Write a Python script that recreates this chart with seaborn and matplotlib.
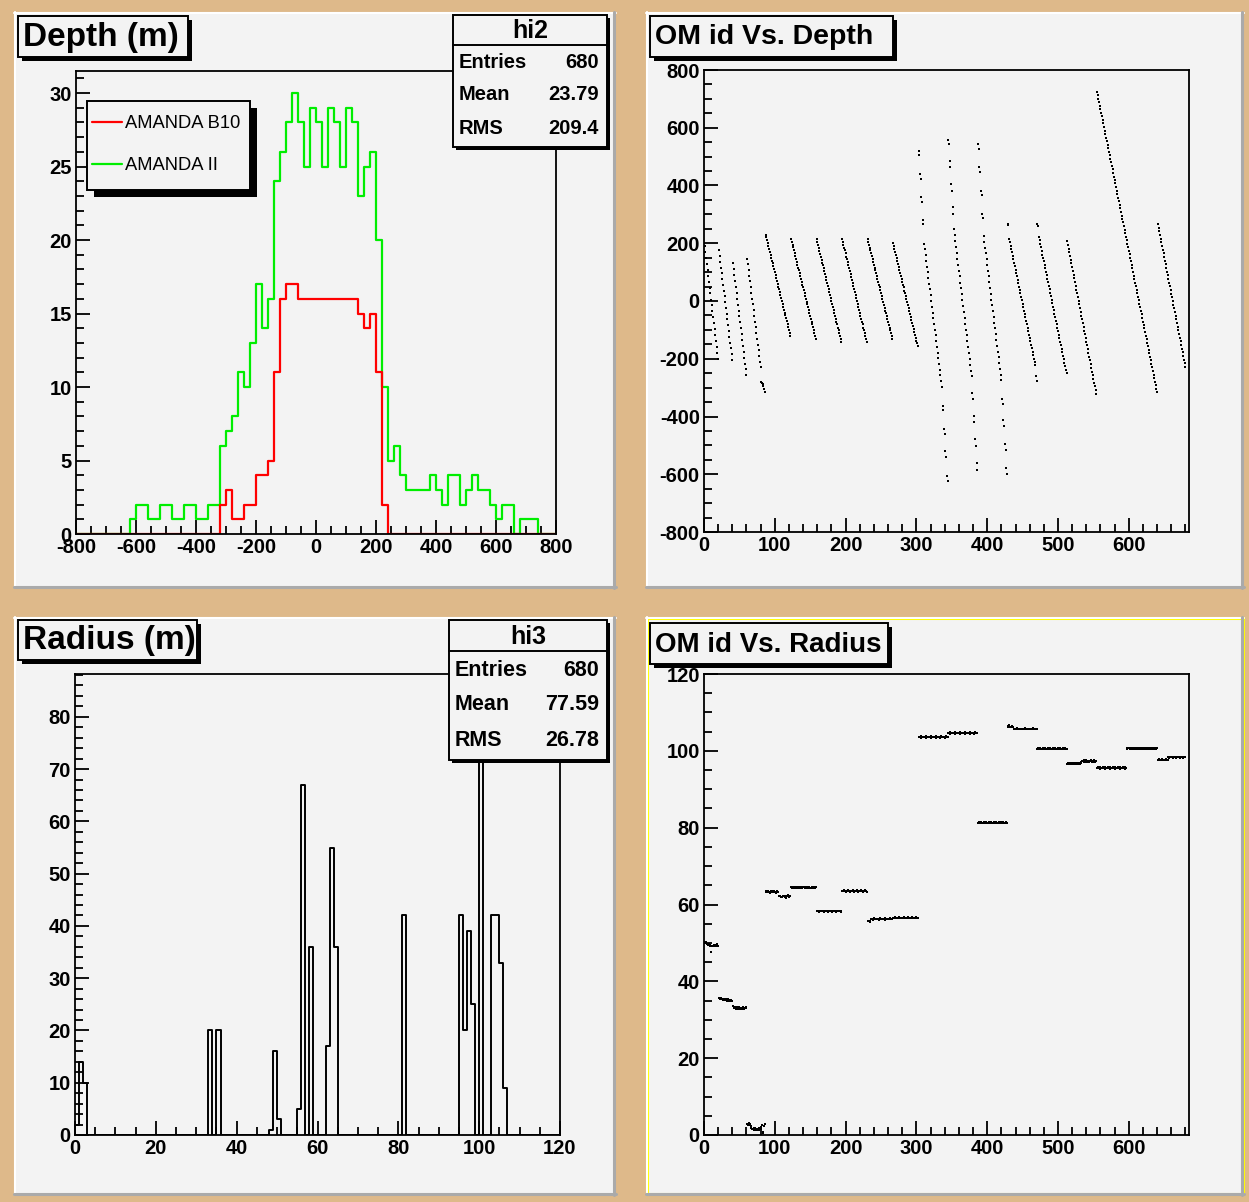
import numpy as np
import pandas as pd
import matplotlib
matplotlib.use("Agg")
import matplotlib.pyplot as plt
from matplotlib.patches import Rectangle
from matplotlib.ticker import MultipleLocator
import seaborn as sns

# ---------------- data ----------------
# Depth histograms, 20 m bins, counts from first non-empty bin
depth_bin = 20
b10_first = -320
b10_counts = [2, 3, 1, 1, 2, 2, 4, 4, 5, 11, 16, 17, 17, 16, 16, 16, 16, 16, 16, 16,
              16, 16, 16, 15, 14, 15, 11, 2]
aii_first = -620
aii_counts = [1, 2, 2, 1, 1, 2, 2, 1, 1, 2, 2, 1, 1, 2, 2,
              6, 7, 8, 11, 10, 13, 17, 14, 16, 24, 26, 28, 30, 28, 25, 29,
              28, 25, 29, 28, 25, 29, 28, 23, 25, 26, 20, 10, 5, 6, 4, 3, 3, 3, 3,
              4, 3, 2, 4, 4, 2, 3, 4, 3, 3, 2, 1, 2, 2, 0, 1, 1, 1]

# Radius histogram, 1 m bins: bin left edge -> count
radius_bins = [0, 1, 2, 33, 35, 48, 49, 50, 55, 56, 58, 62, 63, 64, 81,
               95, 96, 97, 98, 100, 103, 104, 105, 106]
radius_counts = [2, 14, 10, 20, 20, 1, 16, 3, 5, 67, 36, 17, 55, 36, 42,
                 42, 20, 39, 25, 84, 42, 42, 33, 9]

# OM positions per string: first OM id, depths (m), radius (m)
string_first_id = [1, 21, 41, 61, 87, 123, 159, 195, 231, 267, 303, 345, 387,
                   429, 471, 513, 555, 597, 641]

depth_s01 = [190, 170, 149, 128, 108, 87, 67, 46, 26, 5, -15, -36, -56, -77, -97, -118, -138, -159, -179, -200]
depth_s02 = [176, 156, 136, 116, 96, 76, 56, 36, 16, -4, -24, -44, -64, -84, -104, -124, -144, -164, -184, -205]
depth_s03 = [130, 110, 89, 69, 48, 28, 8, -13, -33, -53, -74, -94, -115, -135, -155, -176, -196, -217, -237, -258]
depth_s04 = [147, 127, 107, 88, 68, 48, 28, 8, -12, -32, -51, -71, -91, -111, -131, -151, -170, -190, -210, -230,
             -280, -284, -288, -295, -305, -315]
depth_s05 = [230, 220, 210, 200, 190, 180, 170, 160, 150, 140, 130, 120, 110, 100, 90, 80, 70, 60,
             50, 40, 30, 20, 10, 0, -10, -20, -30, -40, -50, -60, -70, -80, -90, -100, -110, -120]
depth_s06 = [215, 205, 195, 186, 176, 166, 156, 146, 136, 126, 116, 107, 97, 87, 77, 67, 57, 47,
             37, 28, 18, 8, -2, -12, -22, -32, -42, -51, -61, -71, -81, -91, -101, -111, -120, -130]
depth_s07 = [215, 205, 195, 184, 174, 164, 154, 143, 133, 123, 113, 103, 92, 82, 72, 62, 51, 41,
             31, 21, 11, 0, -10, -20, -30, -41, -51, -61, -71, -81, -92, -102, -112, -122, -132, -142]
depth_s08 = [216, 206, 195, 185, 175, 165, 154, 144, 134, 124, 113, 103, 93, 83, 72, 62, 52, 42,
             31, 21, 11, 1, -10, -20, -30, -40, -51, -61, -71, -81, -92, -102, -112, -122, -133, -143]
depth_s09 = [214, 204, 195, 185, 175, 165, 155, 145, 135, 126, 116, 106, 96, 86, 76, 66, 56, 47,
             37, 27, 17, 7, -3, -13, -23, -33, -42, -52, -62, -72, -82, -92, -102, -111, -121, -131]
depth_s10 = [200, 190, 180, 169, 159, 149, 139, 128, 118, 108, 98, 88, 77, 67, 57, 47, 36, 26,
             16, 6, -4, -15, -25, -35, -45, -55, -66, -76, -86, -96, -107, -117, -127, -137, -147, -157]
depth_s11 = [520, 505, 441, 424, 361, 343, 280, 265,
             199, 179, 159, 139, 119, 100, 80, 60, 40, 20, 0, -20, -40, -60, -79, -99, -119, -139,
             -159, -179, -199, -218, -238, -258, -278, -298,
             -365, -379, -445, -460, -518, -541, -605, -622]
depth_s12 = [557, 542, 485, 463, 405, 382, 324, 301,
             248, 228, 207, 187, 166, 146, 126, 105, 85, 64, 44, 24, 3, -17, -38, -58, -78, -99,
             -119, -140, -160, -180, -201, -221, -241, -261,
             -318, -339, -397, -420, -478, -501, -562, -585]
depth_s13 = [543, 528, 463, 448, 382, 367, 301, 286,
             225, 205, 185, 165, 145, 125, 105, 85, 65, 45, 25, 5, -15, -35, -55, -75, -95, -115,
             -135, -155, -175, -195, -215, -235, -255, -275,
             -339, -355, -413, -434, -494, -515, -578, -599]
depth_s14 = [268, 262, 216, 204, 192, 180, 168, 157, 145, 133, 121, 109, 97, 85, 73, 62, 50, 38,
             26, 14, 2, -10, -22, -34, -45, -57, -69, -81, -93, -105, -117, -129, -140, -152,
             -164, -176, -188, -200, -212, -223, -261, -277]
depth_s15 = [266, 260, 222, 210, 198, 186, 174, 161, 149, 137, 125, 113, 101, 89, 77, 65, 53, 40,
             28, 16, 4, -8, -20, -32, -44, -56, -68, -81, -93, -105, -117, -129, -141, -153,
             -165, -177, -189, -202, -214, -226, -238, -250]
depth_s16 = [207, 194, 181, 168, 155, 142, 130, 117, 104, 91, 78, 65, 52, 39, 26, 13, 0, -12,
             -25, -38, -51, -64, -77, -90, -103, -116, -128, -141, -154, -167, -180, -193, -206,
             -219, -232, -245, -257, -270, -283, -296, -309, -321]
depth_s17 = [725, 713, 700, 688, 676, 664, 651, 639, 627, 615, 602, 590, 578, 566, 554, 541, 529,
             517, 505, 492, 480, 468, 456, 443, 431, 419, 407, 394, 382, 370, 358, 345, 333, 321,
             309, 296, 284, 272, 260, 247, 235, 223]
depth_s18 = [211, 199, 186, 174, 162, 150, 137, 125, 113, 101, 88, 76, 64, 52, 39, 27, 15, 3,
             -10, -22, -34, -46, -59, -71, -83, -95, -108, -120, -132, -144, -157, -169, -181,
             -193, -206, -218, -230, -242, -255, -267, -279, -291, -304, -316]
depth_s19 = [266, 253, 241, 228, 215, 203, 190, 177, 165, 152, 139, 127, 114, 101, 89, 76, 63, 51,
             38, 25, 13, 0, -13, -25, -38, -51, -63, -76, -89, -101, -114, -127, -139, -152,
             -165, -177, -190, -203, -215, -228]

radius_s01 = [50.3, 50.1, 50.2, 49.8, 49.6, 49.5, 49.7, 49.3, 49.4, 47.6, 49.2, 49.1, 49.3, 49.5,
              49.2, 49.1, 49.4, 49.3, 49.6, 49.2]
radius_s02 = [35.6, 35.5, 35.4, 35.6, 35.3, 35.4, 35.2, 35.5, 35.3, 35.2, 35.4, 35.1, 35.0, 35.3,
              34.9, 35.2, 35.0, 35.1, 34.9, 35.0]
radius_s03 = [33.5, 33.2, 33.0, 33.3, 32.9, 33.1, 33.4, 32.8, 33.0, 33.2, 32.9, 33.1, 33.0, 32.7,
              33.2, 33.0, 32.9, 33.1, 33.3, 33.0]
radius_s04 = [2.9, 2.7, 3.1, 2.6, 2.8, 2.4, 1.8, 1.6, 1.5, 1.7, 1.4, 1.9, 1.3, 1.6, 1.5, 1.2, 1.8,
              1.4, 1.7, 1.5, 2.2, 2.6, 0.8, 0.6, 2.3, 2.9]
radius_s05 = [63.4, 63.3, 63.5, 63.2, 63.4, 63.3, 63.1, 63.4, 63.3, 63.5, 63.2, 63.3, 63.4, 63.2,
              63.3, 63.1, 63.4, 63.2, 63.3,
              62.3, 62.1, 62.2, 62.0, 61.9, 62.2, 62.1, 62.3, 62.0, 62.1, 61.8, 62.2, 62.1, 62.4,
              62.0, 62.2, 62.1]
radius_s06 = [64.6, 64.4, 64.5, 64.3, 64.4, 64.6] * 6
radius_s07 = [58.4, 58.2, 58.3, 58.3, 58.1, 58.4] * 6
radius_s08 = [63.6, 63.4, 63.5, 63.7, 63.5, 63.3] * 6
radius_s09 = [55.7, 55.6, 55.8, 55.5, 55.7,
              56.2, 56.1, 56.3, 56.0, 56.4, 56.2, 56.1, 56.3, 56.2, 56.1, 56.3, 56.0, 56.4, 56.2,
              56.1, 56.3, 56.2, 56.1, 56.3, 56.0, 56.4, 56.2, 56.1, 56.3, 56.2, 56.3, 56.1, 56.4,
              56.2, 56.3, 56.2]
radius_s10 = [56.5, 56.6, 56.4, 56.7, 56.5, 56.6] * 6
radius_s11 = [103.5, 103.7, 103.6, 103.4, 103.8, 103.6, 103.5] * 6
radius_s12 = [104.6, 104.7, 104.5, 104.8, 104.6, 104.7, 104.6] * 6
radius_s13 = [81.3, 81.4, 81.2, 81.3, 81.5, 81.3, 81.2] * 6
radius_s14 = [106.4, 106.3, 106.6, 106.2, 106.3, 106.2, 106.4, 106.2, 106.3] + \
    [105.7, 105.8, 105.6, 105.7, 105.9, 105.7, 105.6, 105.8, 105.7, 105.6, 105.8] * 3
radius_s15 = [100.6, 100.7, 100.5, 100.6, 100.8, 100.6, 100.5] * 6
radius_s16 = [96.6, 96.8, 96.7, 96.5, 96.9, 96.7, 96.6, 96.8, 96.7, 96.9] * 2 + \
    [97.2, 97.4, 97.3, 97.6, 97.2, 97.1, 97.3, 97.5, 97.2, 97.3, 97.4] * 2
radius_s17 = [95.6, 95.5, 95.8, 95.6, 95.4, 95.7, 95.5] * 6
radius_s18 = [100.7, 100.6, 100.8, 100.7, 100.5, 100.7, 100.8, 100.6, 100.7, 100.6, 100.8] * 4
radius_s19 = [97.6, 97.8, 97.7, 97.5, 97.7] * 3 + [98.3, 98.2, 98.4, 98.3, 98.5] * 5

hi2_stats = [("Entries", "680"), ("Mean", "23.79"), ("RMS", "209.4")]
hi3_stats = [("Entries", "680"), ("Mean", "77.59"), ("RMS", "26.78")]

depth_strings = [depth_s01, depth_s02, depth_s03, depth_s04, depth_s05, depth_s06, depth_s07,
                 depth_s08, depth_s09, depth_s10, depth_s11, depth_s12, depth_s13, depth_s14,
                 depth_s15, depth_s16, depth_s17, depth_s18, depth_s19]
radius_strings = [radius_s01, radius_s02, radius_s03, radius_s04, radius_s05, radius_s06,
                  radius_s07, radius_s08, radius_s09, radius_s10, radius_s11, radius_s12,
                  radius_s13, radius_s14, radius_s15, radius_s16, radius_s17, radius_s18,
                  radius_s19]

rows = []
for first, dep, rad in zip(string_first_id, depth_strings, radius_strings):
    for k, (d, r) in enumerate(zip(dep, rad)):
        rows.append((first + k, d, r))
om = pd.DataFrame(rows, columns=["om", "depth", "radius"])

b10_df = pd.DataFrame({"x": [b10_first + depth_bin * (k + 0.5) for k in range(len(b10_counts))],
                       "w": b10_counts})
aii_df = pd.DataFrame({"x": [aii_first + depth_bin * (k + 0.5) for k in range(len(aii_counts))],
                       "w": aii_counts})
rad_df = pd.DataFrame({"x": [v + 0.5 for v in radius_bins], "w": radius_counts})

# ---------------- figure ----------------
W, H = 1249, 1202
TAN = "#DEB98A"
PAD = "#F3F3F3"

sns.set_style("ticks")
plt.rcParams["font.family"] = ["Liberation Sans", "DejaVu Sans"]
plt.rcParams["font.weight"] = "bold"
plt.rcParams["axes.unicode_minus"] = False
for key in ["text.color", "xtick.color", "ytick.color", "axes.labelcolor"]:
    plt.rcParams[key] = "black"

fig = plt.figure(figsize=(W / 100, H / 100), dpi=100, facecolor=TAN)


def rect(l, t, r, b):
    return [l / W, 1 - b / H, (r - l) / W, (b - t) / H]


bg = fig.add_axes([0, 0, 1, 1], zorder=0)
bg.set_xlim(0, W)
bg.set_ylim(H, 0)
bg.axis("off")

pads = [(14, 12, 616, 588), (646, 12, 1244, 588), (14, 617, 616, 1195), (646, 617, 1244, 1195)]
for (l, t, r, b) in pads:
    bg.add_patch(Rectangle((l, t), r - l, b - t, facecolor=PAD, edgecolor="none"))
    bg.plot([l, r], [t + 1, t + 1], color="white", lw=1.5)
    bg.plot([l + 1, l + 1], [t, b], color="white", lw=1.5)
    bg.plot([r - 1.5, r - 1.5], [t, b], color="#AAAAAA", lw=2.2)
    bg.plot([l, r], [b - 1.5, b - 1.5], color="#AAAAAA", lw=2.2)
l, t, r, b = pads[3]
bg.add_patch(Rectangle((l + 1, t + 1), r - l - 2, b - t - 2, facecolor="none",
                       edgecolor="#FFFF00", lw=2.2))


def style_axes(ax, xmaj, xmin, ymaj, ymin):
    ax.set_facecolor(PAD)
    for s in ax.spines.values():
        s.set_visible(True)
        s.set_linewidth(1.3)
        s.set_color("black")
    ax.xaxis.set_major_locator(MultipleLocator(xmaj))
    ax.xaxis.set_minor_locator(MultipleLocator(xmin))
    ax.yaxis.set_major_locator(MultipleLocator(ymaj))
    ax.yaxis.set_minor_locator(MultipleLocator(ymin))
    ax.tick_params(which="both", direction="in", top=False, right=False, width=1.3,
                   labelsize=14.5, pad=3, color="black", labelcolor="black")
    ax.tick_params(which="major", length=10)
    ax.tick_params(which="minor", length=5.5)
    for lab in ax.get_xticklabels() + ax.get_yticklabels():
        lab.set_fontweight("bold")
    ax.set_xlabel("")
    ax.set_ylabel("")


# Depth histogram
ax1 = fig.add_axes(rect(76, 71, 556, 534), zorder=2)
sns.histplot(data=aii_df, x="x", weights="w", binwidth=depth_bin, binrange=(-800, 800),
             element="step", fill=False, color="#00EE00", linewidth=1.6, ax=ax1)
sns.histplot(data=b10_df, x="x", weights="w", binwidth=depth_bin, binrange=(-800, 800),
             element="step", fill=False, color="#FF0000", linewidth=1.6, ax=ax1)
ax1.set_xlim(-800, 800)
ax1.set_ylim(0, 31.5)
style_axes(ax1, 200, 50, 5, 1)

# OM id vs depth
ax2 = fig.add_axes(rect(704, 70, 1189, 532), zorder=2)
sns.scatterplot(data=om, x="om", y="depth", marker="s", s=4, color="black",
                linewidth=0, legend=False, ax=ax2)
ax2.set_xlim(0, 685)
ax2.set_ylim(-800, 800)
style_axes(ax2, 100, 20, 200, 50)

# Radius histogram
ax3 = fig.add_axes(rect(75, 674, 560, 1135), zorder=2)
sns.histplot(data=rad_df, x="x", weights="w", binwidth=1, binrange=(0, 120),
             element="step", fill=False, color="black", linewidth=1.4, ax=ax3)
ax3.set_xlim(0, 120)
ax3.set_ylim(0, 88.2)
style_axes(ax3, 20, 5, 10, 2)

# OM id vs radius
ax4 = fig.add_axes(rect(704, 674, 1189, 1135), zorder=2)
sns.scatterplot(data=om, x="om", y="radius", marker="s", s=4, color="black",
                linewidth=0, legend=False, ax=ax4)
ax4.set_xlim(0, 685)
ax4.set_ylim(0, 120)
style_axes(ax4, 100, 20, 20, 5)

# ---------------- boxes on top ----------------
fg = fig.add_axes([0, 0, 1, 1], zorder=10)
fg.set_xlim(0, W)
fg.set_ylim(H, 0)
fg.axis("off")


def box(l, t, r, b, sh=4, lw=1.4):
    fg.add_patch(Rectangle((l + sh, t + sh), r - l, b - t, facecolor="black", edgecolor="none"))
    fg.add_patch(Rectangle((l, t), r - l, b - t, facecolor=PAD, edgecolor="black", lw=lw))


def title_box(l, t, r, b, text, size):
    box(l, t, r, b, sh=4)
    fg.text(l + 5, (t + b) / 2 + 1, text, fontsize=size, fontweight="bold",
            ha="left", va="center", color="black")


title_box(18, 16, 188, 57, "Depth (m)", 24)
title_box(650, 16, 893, 57, "OM id Vs. Depth", 20.5)
title_box(18, 620, 197, 660, "Radius (m)", 24)
title_box(650, 623, 888, 664, "OM id Vs. Radius", 20)


def stat_box(l, t, r, b, head_b, name, stats, ys, size, head_size):
    box(l, t, r, b, sh=3)
    fg.plot([l, r], [head_b, head_b], color="black", lw=1.4)
    fg.text((l + r) / 2, (t + head_b) / 2 + 1, name, fontsize=head_size, fontweight="bold",
            ha="center", va="center", color="black")
    for (lab, val), y in zip(stats, ys):
        fg.text(l + 6, y, lab, fontsize=size, fontweight="bold", ha="left", va="center",
                color="black")
        fg.text(r - 8, y, val, fontsize=size, fontweight="bold", ha="right", va="center",
                color="black")


stat_box(453, 15, 607, 147, 45, "hi2", hi2_stats, [63, 95, 128], 14.5, 18)
stat_box(449, 620, 607, 760, 651, "hi3", hi3_stats, [670, 704, 741], 15.5, 18)

# legend of the depth histogram
fg.add_patch(Rectangle((94, 108), 163, 89, facecolor="black", edgecolor="none"))
fg.add_patch(Rectangle((87, 101), 163, 89, facecolor=PAD, edgecolor="black", lw=1.4))
fg.plot([92, 122], [122, 122], color="#FF0000", lw=1.6)
fg.plot([92, 122], [164, 164], color="#00EE00", lw=1.6)
fg.text(125, 123, "AMANDA B10", fontsize=13.2, fontweight="normal", ha="left", va="center",
        color="black")
fg.text(125, 165, "AMANDA II", fontsize=13.2, fontweight="normal", ha="left", va="center",
        color="black")

fig.savefig("out.png", dpi=100, facecolor=TAN)
